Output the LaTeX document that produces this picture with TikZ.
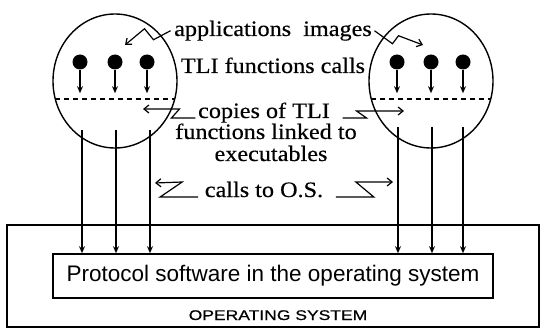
\documentclass[tikz,border=0pt]{standalone}
\usepackage{fontspec}
\setmainfont{Liberation Serif}[FakeStretch=1.1,FakeBold=0.4]
\newfontfamily\protofont{Liberation Sans}
\newfontfamily\osfont{Liberation Sans}[FakeStretch=1.25,FakeBold=0.6]
\usepackage{tikz}
\usetikzlibrary{arrows.meta,positioning,calc}
\newcommand\tlicall[2]{%
\node[callball] (#1) at (#2) {};
\draw[tliarrow] (#1.south) -- ++(0,23);
}

\begin{document}
\begin{tikzpicture}[x=1pt,y=-1pt,line width=1.4pt,
	serifnote/.style={font=\fontsize{22}{24}\selectfont, inner sep=0pt, anchor=base},
	callball/.style={circle, fill=black, minimum size=15pt, inner sep=0pt},
	tliarrow/.style={-{Stealth[length=7pt,width=6pt]}},
	osarrow/.style={-{Stealth[length=7pt,width=6pt]}},
	zigzag/.style={-{Straight Barb[length=5pt,width=8pt]}, line width=1.2pt}]
	\useasboundingbox (0,0) rectangle (543,331);

	%% operating system
	\node[draw, line width=1.6pt, minimum width=532pt, minimum height=102pt] (osbox) at (273,276) {};
	\node[draw, line width=1.6pt, minimum width=440pt, minimum height=44pt, inner sep=0pt,
		font=\protofont\fontsize{22.5}{24}\selectfont] (proto) at (273,276) {Protocol software in the operating system};
	\node[font=\osfont\fontsize{14}{16}\selectfont, inner sep=0pt, anchor=base] (oslabel) at (278,320) {OPERATING SYSTEM};

	%% application images
	\draw (115,81) ellipse [x radius=62, y radius=67];
	\draw (431,81) ellipse [x radius=62, y radius=67];
	\draw[dash pattern=on 5pt off 4pt] (55,99) -- (175,99);
	\draw[dash pattern=on 5pt off 4pt] (371,99) -- (491,99);

	\tlicall{ballLa}{80,62}
	\tlicall{ballLb}{115,62}
	\tlicall{ballLc}{147,62}
	\tlicall{ballRa}{397,62}
	\tlicall{ballRb}{431,62}
	\tlicall{ballRc}{463,62}

	% calls to the operating system
	\foreach \x in {82,116,150}
		\draw[osarrow] (\x,130) -- (\x,0 |- proto.north);
	\foreach \x in {398,432,463}
		\draw[osarrow] (\x,127) -- (\x,0 |- proto.north);

	%% texts
	\node[serifnote] (apps) at (273,36) {applications~~images};
	\node[serifnote] (tli) at (273,73) {TLI functions calls};
	\node[serifnote] (copies) at (264,118) {copies of TLI};
	\node[serifnote] (linked) at (266,139) {functions linked to};
	\node[serifnote] (execs) at (271,161) {executables};
	\node[serifnote] (callos) at (264,197) {calls to O.S.};

	%% zigzag pointers
	\coordinate (imgL) at (125,45);
	\coordinate (imgR) at (423,45);
	\coordinate (copyL) at (143,109);
	\coordinate (copyR) at (404,111);
	\coordinate (osL) at (155,183);
	\coordinate (osR) at (393,182);

	\draw[zigzag] ([xshift=-3pt]apps.west) -- ++(-17,9) -- ++(-9,-11) -- (imgL);
	\draw[zigzag] ([xshift=2pt]apps.east) -- ++(18,13) -- ++(6,-8) -- (imgR);
	\draw[zigzag] ([xshift=-2pt]copies.base west) -- ++(-24,0) -- ++(8,-9) -- (copyL);
	\draw[zigzag] ([xshift=12pt]copies.base east) -- ++(24,0) -- ++(-10,-7) -- (copyR);
	\draw[zigzag] ([xshift=-6pt]callos.base west) -- ++(-38,0) -- ++(22,-15) -- (osL);
	\draw[zigzag] ([xshift=12pt]callos.base east) -- ++(38,0) -- ++(-18,-15) -- (osR);
\end{tikzpicture}
\end{document}
